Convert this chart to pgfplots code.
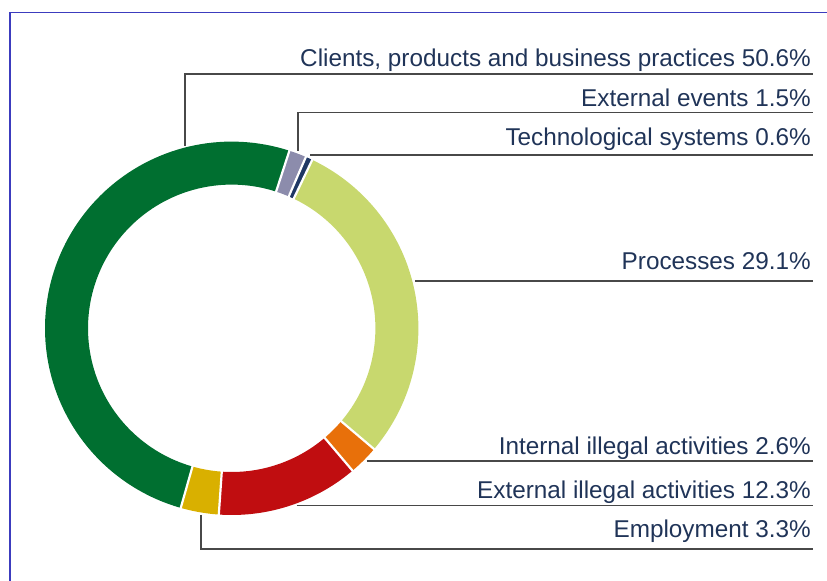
\documentclass[border=0pt]{standalone}
\usepackage{pgfplots}
\usepackage{pgfplotstable}
\pgfplotsset{compat=1.18}
\usepackage{fontspec}
\setmainfont{Liberation Sans}
\definecolor{seg0}{RGB}{0,111,48}
\definecolor{seg1}{RGB}{140,140,172}
\definecolor{seg2}{RGB}{31,56,100}
\definecolor{seg3}{RGB}{200,216,110}
\definecolor{seg4}{RGB}{232,112,10}
\definecolor{seg5}{RGB}{192,13,16}
\definecolor{seg6}{RGB}{217,176,0}
\definecolor{txt}{RGB}{32,52,88}
\definecolor{leader}{RGB}{72,72,72}
\definecolor{frame}{RGB}{60,60,190}

% share of operational loss events, per cent (clockwise order)
\pgfplotstableread{
value
50.6
1.5
0.6
29.1
2.6
12.3
3.3
}\datatable

\newcommand{\cx}{231.7}
\newcommand{\cy}{252.7}
\newcommand{\startangle}{195.84}

\begin{document}
\begin{tikzpicture}
\begin{axis}[
  x=1bp, y=1bp,
  xmin=0, xmax=827, ymin=0, ymax=581,
  hide axis, clip=false, no markers,
  every axis plot/.append style={line join=miter},
]
\path[use as bounding box] (axis cs:0,0) rectangle (axis cs:827,581);
% frame
\addplot[frame, line width=1.3bp] coordinates {(10,0) (10,568.7) (830,568.7)};
% ring segments
\xdef\cum{\startangle}
\foreach \i in {0,...,6}{
  \pgfplotstablegetelem{\i}{value}\of\datatable
  \pgfmathsetmacro\a{\cum}
  \pgfmathsetmacro\b{\cum+3.6*\pgfplotsretval}
  \xdef\cum{\b}
  \edef\temp{\noexpand\addplot[draw=seg\i, line width=43bp, domain=\a:\b, samples=100] ({\cx+165.2*sin(x)},{\cy+165.2*cos(x)});}
  \temp
}
% white separators
\xdef\cum{\startangle}
\foreach \i in {0,...,6}{
  \pgfplotstablegetelem{\i}{value}\of\datatable
  \pgfmathsetmacro\a{\cum}
  \pgfmathsetmacro\b{\cum+3.6*\pgfplotsretval}
  \xdef\cum{\b}
  \pgfmathsetmacro\xa{\cx+141*sin(\a)}
  \pgfmathsetmacro\ya{\cy+141*cos(\a)}
  \pgfmathsetmacro\xb{\cx+190*sin(\a)}
  \pgfmathsetmacro\yb{\cy+190*cos(\a)}
  \edef\temp{\noexpand\addplot[white, line width=2.2bp] coordinates {(\xa,\ya) (\xb,\yb)};}
  \temp
}
% leader lines
\addplot[leader, line width=1.6bp] coordinates {(185,435) (185,507) (813,507)};
\addplot[leader, line width=1.6bp] coordinates {(298,430) (298,468.5) (813,468.5)};
\addplot[leader, line width=1.6bp] coordinates {(310,425.7) (813,425.7)};
\addplot[leader, line width=1.6bp] coordinates {(415,300) (813,300)};
\addplot[leader, line width=1.6bp] coordinates {(366.7,120) (813,120)};
\addplot[leader, line width=1.6bp] coordinates {(296.7,75.3) (813,75.3)};
\addplot[leader, line width=1.6bp] coordinates {(201,66) (201,31.7) (813,31.7)};
% labels
\tikzset{lab/.style={anchor=base east, inner sep=0pt, text=txt, font=\fontsize{24.3bp}{29bp}\selectfont}}
\node[lab] at (axis cs:811,514.5) {Clients, products and business practices 50.6\%};
\node[lab] at (axis cs:811,474.5) {External events 1.5\%};
\node[lab] at (axis cs:811,435.5) {Technological systems 0.6\%};
\node[lab] at (axis cs:811,311) {Processes 29.1\%};
\node[lab] at (axis cs:811,126) {Internal illegal activities 2.6\%};
\node[lab] at (axis cs:811,82) {External illegal activities 12.3\%};
\node[lab] at (axis cs:811,43) {Employment 3.3\%};
\end{axis}
\end{tikzpicture}
\end{document}
